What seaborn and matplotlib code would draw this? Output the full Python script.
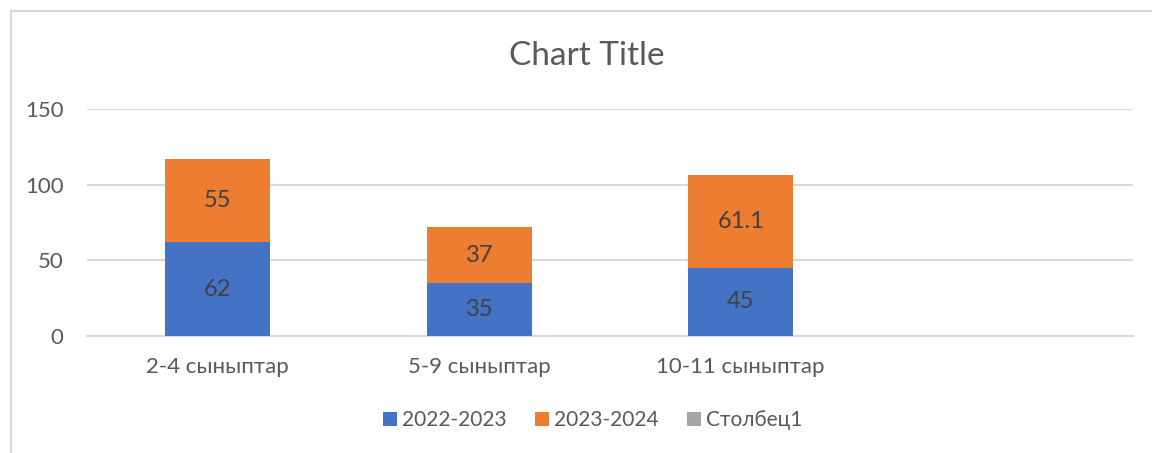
import matplotlib
matplotlib.use("Agg")
import matplotlib.pyplot as plt
from matplotlib.patches import Patch, Rectangle
import numpy as np
import pandas as pd
import seaborn as sns

categories = ["2-4 сыныптар", "5-9 сыныптар", "10-11 сыныптар", ""]
series_names = ["2022-2023", "2023-2024", "Столбец1"]
values_2022 = [62, 35, 45, np.nan]
values_2023 = [55, 37, 61.1, np.nan]
values_col1 = [np.nan, np.nan, np.nan, np.nan]
yticks = [0, 50, 100, 150]

colors = ["#4472C4", "#ED7D31", "#A5A5A5"]
grid_c = "#D9D9D9"
tick_c = "#595959"
label_c = "#404040"

sns.set_theme(style="white")
plt.rcParams["font.family"] = ["Lato", "DejaVu Sans"]

df = pd.DataFrame({
    "cat": categories,
    "a": values_2022,
    "b": values_2023,
    "c": values_col1,
})
df["total"] = df["a"] + df["b"]

fig = plt.figure(figsize=(11.52, 4.53), dpi=100)
ax = fig.add_axes([87 / 1152, 1 - 336 / 453, (1133 - 87) / 1152, (336 - 109) / 453])

sns.barplot(data=df, x="cat", y="total", order=categories, color=colors[1],
            width=0.4, saturation=1, ax=ax, zorder=3, linewidth=0)
sns.barplot(data=df, x="cat", y="a", order=categories, color=colors[0],
            width=0.4, saturation=1, ax=ax, zorder=4, linewidth=0)

for i, row in df.iterrows():
    if pd.notna(row["a"]):
        ax.text(i, row["a"] / 2, f"{row['a']:g}", ha="center", va="center",
                fontsize=17, color=label_c, zorder=5)
    if pd.notna(row["b"]):
        ax.text(i, row["a"] + row["b"] / 2, f"{row['b']:g}", ha="center", va="center",
                fontsize=17, color=label_c, zorder=5)

ax.set_ylim(0, 150)
ax.set_xlim(-0.5, 3.5)
ax.set_yticks(yticks)
ax.set_yticklabels([str(t) for t in yticks])
ax.set_xlabel("")
ax.set_ylabel("")
for s in ["top", "right", "left"]:
    ax.spines[s].set_visible(False)
ax.spines["bottom"].set_color(grid_c)
ax.spines["bottom"].set_linewidth(1.5)
ax.yaxis.grid(True, color=grid_c, linewidth=1.5, zorder=0)
ax.set_axisbelow(True)
ax.tick_params(axis="y", length=0, pad=17, labelsize=16, labelcolor=tick_c)
ax.tick_params(axis="x", length=0, pad=15, labelsize=16, labelcolor=tick_c)

fig.text(587 / 1152, 1 - 56 / 453, "Chart Title", ha="center", va="center",
         fontsize=24, color=tick_c)

handles = [Patch(facecolor=c, edgecolor="none", label=n) for c, n in zip(colors, series_names)]
fig.legend(handles=handles, loc="center", bbox_to_anchor=(593 / 1152, 1 - 420 / 453),
           ncol=3, frameon=False, fontsize=15, labelcolor=tick_c,
           handlelength=0.67, handleheight=0.67, handletextpad=0.25, columnspacing=1.35)

fig.patches.append(Rectangle((11 / 1152, -0.2), 1.2, 1 - 11 / 453 + 0.2,
                             transform=fig.transFigure, fill=False,
                             edgecolor=grid_c, linewidth=1.5))

fig.savefig("out.png", dpi=100)
